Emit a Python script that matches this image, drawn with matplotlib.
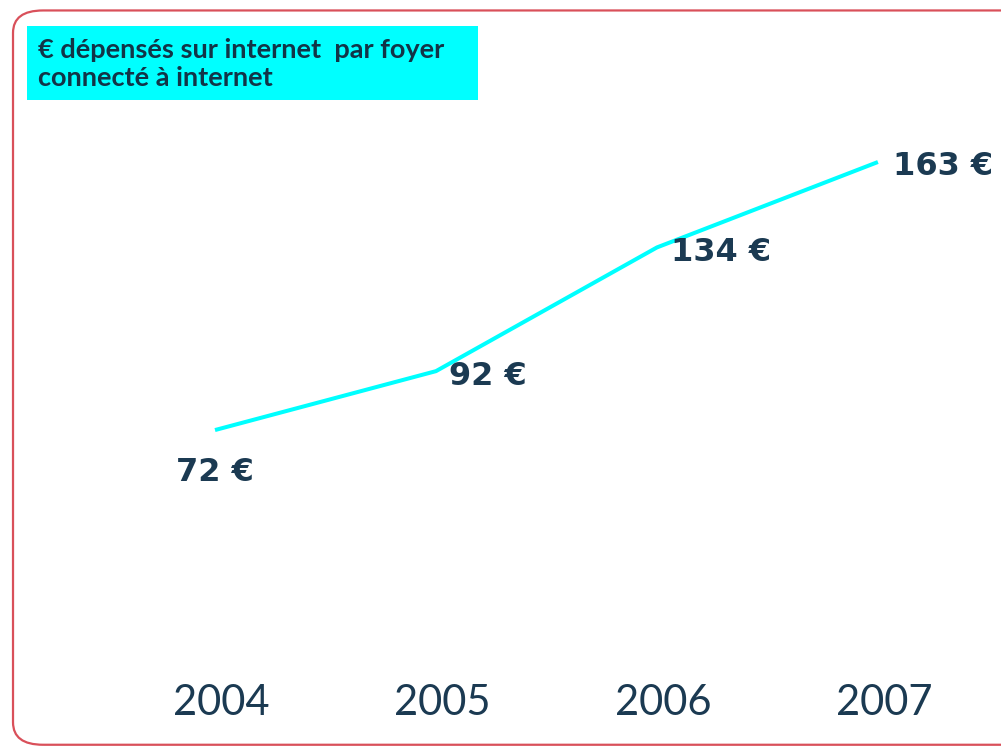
import matplotlib.pyplot as plt
from matplotlib.patches import FancyBboxPatch, Rectangle

years = [2004, 2005, 2006, 2007]
valeurs = [72, 92, 134, 163]
etiquettes = ["72 €", "92 €", "134 €", "163 €"]
titre = "€ dépensés sur internet  par foyer\nconnecté à internet"

# decalage des etiquettes en pixels par rapport au point
decalages = [(-39, -42), (13, -5), (14, -5), (15, -4)]

bleu_fonce = "#1b3a52"

fig = plt.figure(figsize=(10.01, 7.47), dpi=100)
ax = fig.add_axes([0, 0, 1, 1])
ax.set_xlim(2003.027, 2007.557)
ax.set_ylim(-35.6, 218.0)
ax.axis("off")

ax.plot(years, valeurs, color="#00ffff", lw=2.9, solid_capstyle="butt")

for x, v, lab, (dx, dy) in zip(years, valeurs, etiquettes, decalages):
    ax.annotate(lab, (x, v), xytext=(dx, dy), textcoords="offset pixels",
                ha="left", va="center", fontsize=23, fontweight="bold",
                color=bleu_fonce, family="DejaVu Sans")

for x in years:
    ax.text(x + 0.03, -20.8, str(x), ha="center", va="center",
            fontsize=30, color=bleu_fonce, family="Lato")

# cadre rouge arrondi
cadre = FancyBboxPatch((0.013, 0.003), 1.02, 0.983, transform=fig.transFigure,
                       boxstyle="round,pad=0,rounding_size=0.03",
                       fill=False, ec="#d9505a", lw=1.6, clip_on=False)
fig.patches.append(cadre)

# bandeau titre
fig.patches.append(Rectangle((27 / 1001, 1 - 100 / 747), 451 / 1001, 74 / 747,
                             transform=fig.transFigure, color="#00ffff", lw=0))
fig.text(38 / 1001, 1 - 64 / 747, titre, ha="left", va="center",
         fontsize=19.5, fontweight="bold", color="#123447", family="Lato",
         linespacing=1.15)

fig.savefig("out.png", dpi=100)
